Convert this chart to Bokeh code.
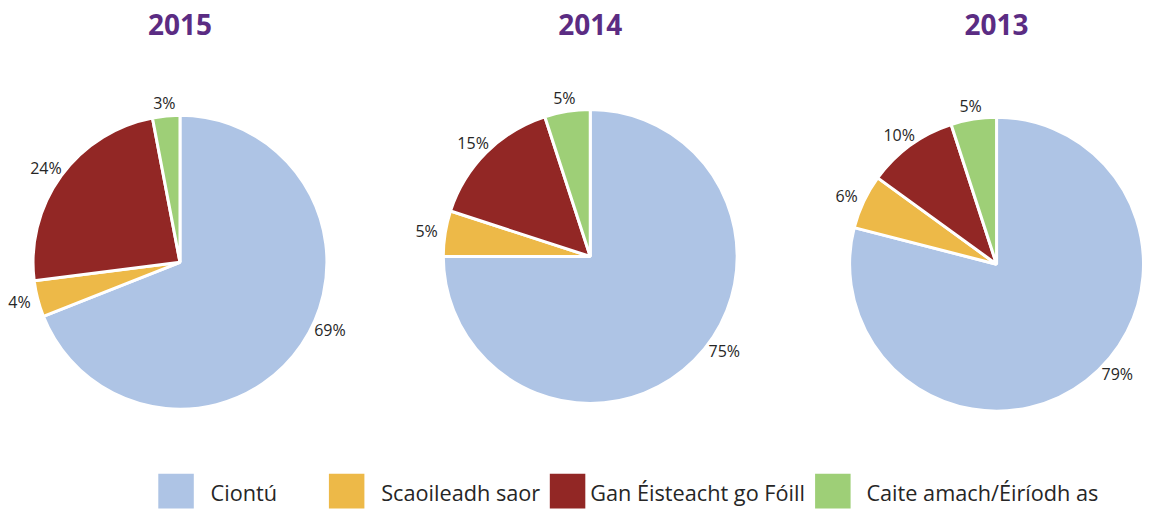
import numpy as np
from bokeh.plotting import figure
from bokeh.models import Range1d, ColumnDataSource
from bokeh.core.properties import value
from bokeh.embed import file_html
from bokeh.resources import INLINE

# ---- data ----
categories = ["Ciontú", "Scaoileadh saor", "Gan Éisteacht go Fóill", "Caite amach/Éiríodh as"]
years = ["2015", "2014", "2013"]
values_2015 = [69, 4, 24, 3]
values_2014 = [75, 5, 15, 5]
values_2013 = [79, 6, 10, 5]
colors = ["#AEC4E5", "#EDB948", "#922725", "#9ECF77"]

# ---- layout: data space spans the reference canvas (1159 x 525) ----
RW, RH = 1159, 525
W, H = 1143, 509

def px(x):
    return x

def py(y):
    return RH - y

p = figure(width=W, height=H, x_range=Range1d(0, RW), y_range=Range1d(0, RH),
           output_backend="svg", toolbar_location=None, min_border=0,
           x_axis_location=None, y_axis_location=None)
p.grid.visible = False
p.outline_line_color = None

centers = [(182, 270), (598, 264), (1010, 272)]
R = 149
label_r = 168
FONT = "Open Sans"

for year, vals, (cx, cy) in zip(years, [values_2015, values_2014, values_2013], centers):
    v = np.array(vals, dtype=float)
    frac = v / v.sum()
    cum = np.cumsum(frac)
    prev = cum - frac
    start = np.pi / 2 - 2 * np.pi * prev
    end = np.pi / 2 - 2 * np.pi * cum
    src = ColumnDataSource(dict(start=start, end=end, color=colors, cat=categories))
    p.wedge(x=px(cx), y=py(cy), radius=R, start_angle="start", end_angle="end",
            direction="clock", fill_color="color", line_color="white", line_width=3,
            source=src)
    mid = np.pi / 2 - 2 * np.pi * (prev + frac / 2)
    mid = mid + np.where(np.arange(len(vals)) == 0, np.radians(9), 0.0)
    lx = px(cx) + label_r * np.cos(mid)
    ly = py(cy) + label_r * np.sin(mid) * (1159 / 1143) * (509 / 525)
    labels = [f"{int(round(x))}%" for x in v]
    p.text(x=lx, y=ly, text=labels, text_align="center", text_baseline="middle",
           text_font=value(FONT), text_font_size="16px", text_color="#262626")
    p.text(x=[px(cx)], y=[py(25)], text=[year], text_align="center", text_baseline="middle",
           text_font=value(FONT), text_font_style="bold", text_font_size="28px",
           text_color="#5B2C83")

# ---- legend ----
sw_left = [160, 333, 557, 826]
txt_left = [213, 386, 598, 878]
p.rect(x=[px(x + 18) for x in sw_left], y=[py(506)] * 4, width=36, height=36,
       fill_color=colors, line_color=None)
p.text(x=[px(x) for x in txt_left], y=[py(507)] * 4, text=categories,
       text_align="left", text_baseline="middle", text_font=value(FONT),
       text_font_size="21.7px", text_color="#262626")

open("out.html", "w").write(file_html(p, INLINE))
